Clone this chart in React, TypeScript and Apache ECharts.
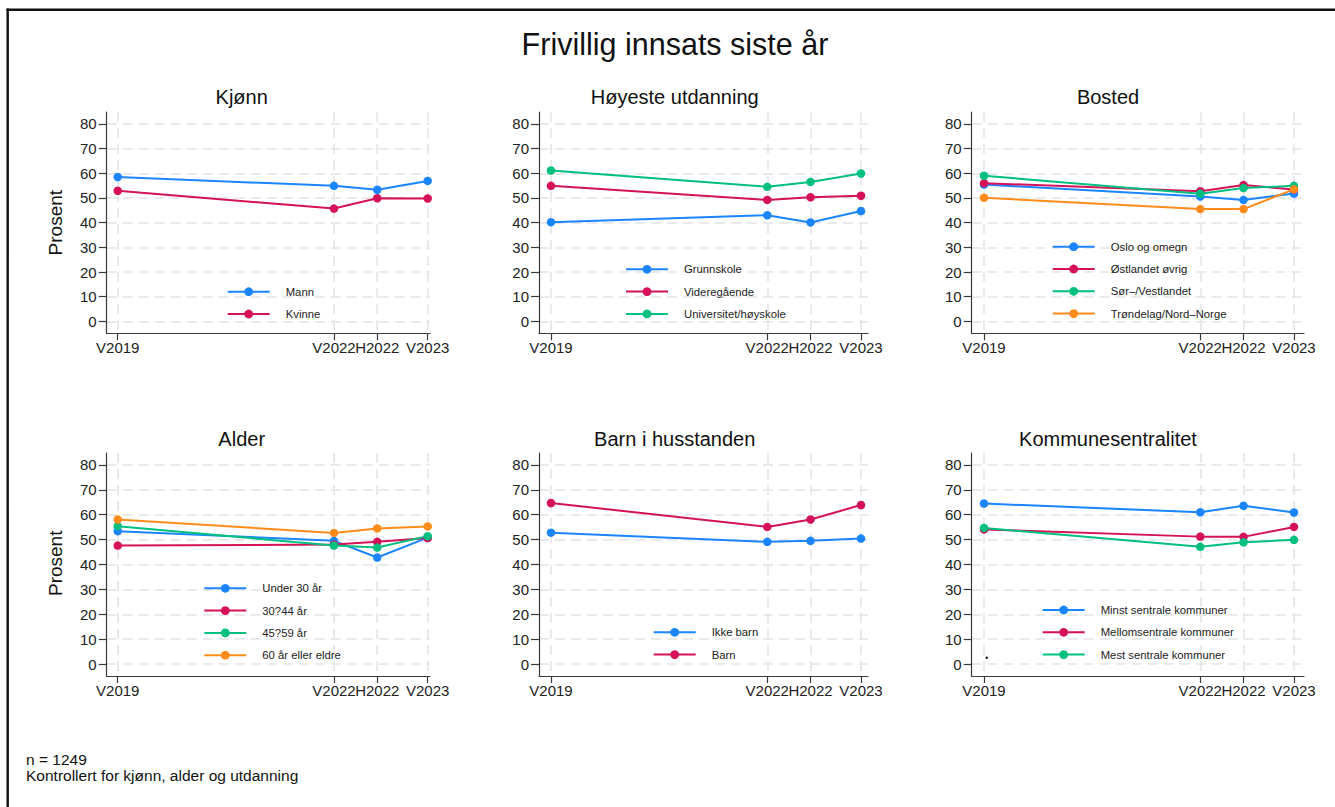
import React, { useEffect, useRef } from 'react';
import * as echarts from 'echarts';

// ---- Data ----
const periods = ['V2019', 'V2022', 'H2022', 'V2023'];
const periodPos = [2019, 2022, 2022.6, 2023.3];
const yTicks = [0, 10, 20, 30, 40, 50, 60, 70, 80];

const mainTitle = 'Frivillig innsats siste år';
const panelTitles = ['Kjønn', 'Høyeste utdanning', 'Bosted', 'Alder', 'Barn i husstanden', 'Kommunesentralitet'];

const kjonnNames = ['Mann', 'Kvinne'];
const kjonnMann = [58.5, 54.9, 53.3, 56.9];
const kjonnKvinne = [52.9, 45.7, 49.9, 49.8];

const utdNames = ['Grunnskole', 'Videregående', 'Universitet/høyskole'];
const utdGrunnskole = [40.2, 43.0, 40.1, 44.7];
const utdVideregaende = [54.9, 49.2, 50.3, 50.9];
const utdUniversitet = [61.1, 54.5, 56.5, 59.9];

const bostedNames = ['Oslo og omegn', 'Østlandet øvrig', 'Sør–/Vestlandet', 'Trøndelag/Nord–Norge'];
const bostedOslo = [55.4, 50.6, 49.2, 51.8];
const bostedOstlandet = [56.0, 52.7, 55.2, 53.4];
const bostedSorVest = [59.0, 51.7, 54.0, 54.9];
const bostedTrondelag = [50.1, 45.5, 45.5, 53.5];

const alderNames = ['Under 30 år', '30?44 år', '45?59 år', '60 år eller eldre'];
const alderUnder30 = [53.4, 49.5, 42.8, 50.8];
const alder3044 = [47.6, 48.0, 49.1, 50.6];
const alder4559 = [55.4, 47.6, 46.8, 51.4];
const alder60 = [58.1, 52.7, 54.5, 55.3];

const barnNames = ['Ikke barn', 'Barn'];
const barnIkke = [52.8, 49.1, 49.5, 50.4];
const barnJa = [64.7, 55.1, 58.1, 63.9];

const kommuneNames = ['Minst sentrale kommuner', 'Mellomsentrale kommuner', 'Mest sentrale kommuner'];
const kommuneMinst = [64.5, 61.0, 63.6, 60.9];
const kommuneMellom = [54.1, 51.2, 51.1, 55.1];
const kommuneMest = [54.7, 47.1, 48.9, 49.9];

const footnotes = ['n = 1249', 'Kontrollert for kjønn, alder og utdanning'];
const yAxisName = 'Prosent';

const panelNames = [kjonnNames, utdNames, bostedNames, alderNames, barnNames, kommuneNames];
const panelValues = [
  [kjonnMann, kjonnKvinne],
  [utdGrunnskole, utdVideregaende, utdUniversitet],
  [bostedOslo, bostedOstlandet, bostedSorVest, bostedTrondelag],
  [alderUnder30, alder3044, alder4559, alder60],
  [barnIkke, barnJa],
  [kommuneMinst, kommuneMellom, kommuneMest],
];

// ---- Layout / style ----
const palette = ['#1a85ff', '#d41159', '#00bf7f', '#ff8c1a'];
const FONT = '"Liberation Sans", Arial, Helvetica, sans-serif';
const colLeft = [106.7, 539, 971.7];
const colRight = [430, 868, 1304];
const xMinCol = [2018.847, 2018.834, 2018.829];
const xMaxCol = [2023.332, 2023.397, 2023.439];
const rowTop = [112, 453];
const rowH = [221.3, 223];
const yMin = -4.8;
const yMax = 84.8;
const titleX = [241.7, 674.7, 1108];
const titleY = [97, 439];
const prosentY = [222.7, 563.3];
const footY = [759.3, 775];
const legendPos = [
  [226.7, 291.7],
  [625, 269.3],
  [1051.7, 246.7],
  [203.3, 588.3],
  [652.7, 632.3],
  [1041.7, 610],
];
const axisColor = '#3a3a3a';
const gridColor = '#e4e4e4';

function nearestLabel(v: number) {
  let best = 0;
  for (let i = 1; i < periodPos.length; i++) {
    if (Math.abs(periodPos[i] - v) < Math.abs(periodPos[best] - v)) best = i;
  }
  return periods[best];
}

function buildOption() {
  const grid: any[] = [];
  const xAxis: any[] = [];
  const yAxis: any[] = [];
  const series: any[] = [];
  const legend: any[] = [];

  panelNames.forEach((names, i) => {
    const c = i % 3;
    const r = Math.floor(i / 3);
    grid.push({
      left: colLeft[c],
      top: rowTop[r],
      width: colRight[c] - colLeft[c],
      height: rowH[r],
      containLabel: false,
    });
    xAxis.push({
      type: 'value',
      gridIndex: i,
      min: xMinCol[c],
      max: xMaxCol[c],
      axisLine: { show: true, onZero: false, lineStyle: { color: axisColor, width: 1.2 } },
      axisTick: { show: true, length: 7, customValues: periodPos, lineStyle: { color: axisColor, width: 1.2 } },
      axisLabel: {
        customValues: periodPos,
        formatter: (v: number) => nearestLabel(v),
        fontSize: 15,
        color: '#222',
        margin: 7,
        fontFamily: FONT,
      },
      splitLine: { show: true, lineStyle: { color: gridColor, width: 1.5, type: [10, 6] } },
    });
    yAxis.push({
      type: 'value',
      gridIndex: i,
      min: yMin,
      max: yMax,
      axisLine: { show: true, onZero: false, lineStyle: { color: axisColor, width: 1.2 } },
      axisTick: { show: true, length: 8, customValues: yTicks, lineStyle: { color: axisColor, width: 1.2 } },
      axisLabel: {
        customValues: yTicks,
        fontSize: 15,
        color: '#222',
        margin: 10,
        fontFamily: FONT,
      },
      splitLine: { show: true, lineStyle: { color: gridColor, width: 1.5, type: [10, 6] } },
    });
    names.forEach((name, k) => {
      series.push({
        type: 'line',
        name,
        xAxisIndex: i,
        yAxisIndex: i,
        data: periodPos.map((x, j) => [x, panelValues[i][k][j]]),
        symbol: 'circle',
        symbolSize: 8.5,
        showSymbol: true,
        lineStyle: { width: 2, color: palette[k] },
        itemStyle: { color: palette[k] },
        color: palette[k],
        emphasis: { disabled: true },
      });
    });
    legend.push({
      data: names,
      orient: 'vertical',
      left: legendPos[i][0],
      top: legendPos[i][1] - 6,
      padding: 0,
      itemWidth: 42,
      itemHeight: 11,
      itemGap: 10.3,
      selectedMode: false,
      textStyle: {
        fontSize: 11.3,
        lineHeight: 12,
        color: '#222',
        fontFamily: FONT,
        padding: [0, 0, 0, 11],
      },
    });
  });

  const graphic: any[] = [
    { type: 'rect', shape: { x: 6.5, y: 8.5, width: 1335, height: 2.4 }, style: { fill: '#111' }, silent: true },
    { type: 'rect', shape: { x: 6.5, y: 8.5, width: 2.4, height: 800 }, style: { fill: '#111' }, silent: true },
    {
      type: 'text',
      x: 675,
      y: 44,
      style: { text: mainTitle, fontSize: 30.5, fontFamily: FONT, fill: '#111', textAlign: 'center', textVerticalAlign: 'middle' },
      silent: true,
    },
    { type: 'circle', shape: { cx: 986.7, cy: 657.7, r: 1.2 }, style: { fill: '#000' }, silent: true },
  ];
  footnotes.forEach((f, k) => {
    graphic.push({
      type: 'text',
      x: 26,
      y: footY[k],
      style: { text: f, fontSize: 15.5, fontFamily: FONT, fill: '#111', textAlign: 'left', textVerticalAlign: 'middle' },
      silent: true,
    });
  });
  panelTitles.forEach((t, i) => {
    const c = i % 3;
    const r = Math.floor(i / 3);
    graphic.push({
      type: 'text',
      x: titleX[c],
      y: titleY[r],
      style: { text: t, fontSize: 20, fontFamily: FONT, fill: '#111', textAlign: 'center', textVerticalAlign: 'middle' },
      silent: true,
    });
  });
  prosentY.forEach((py) => {
    graphic.push({
      type: 'text',
      x: 55,
      y: py,
      rotation: Math.PI / 2,
      style: { text: yAxisName, fontSize: 19, fontFamily: FONT, fill: '#111', textAlign: 'center', textVerticalAlign: 'middle' },
      silent: true,
    });
  });

  return {
    animation: false,
    backgroundColor: '#ffffff',
    textStyle: { fontFamily: FONT },
    grid,
    xAxis,
    yAxis,
    series,
    legend,
    graphic,
  };
}

export default function App() {
  const ref = useRef<HTMLDivElement>(null);
  useEffect(() => {
    if (!ref.current) return;
    const chart = echarts.init(ref.current, undefined, { renderer: 'svg' });
    chart.setOption(buildOption() as any);
    return () => chart.dispose();
  }, []);
  return (
    <div
      ref={ref}
      style={{ position: 'absolute', left: 0, top: 0, width: 1335, height: 807, background: '#fff' }}
    />
  );
}
